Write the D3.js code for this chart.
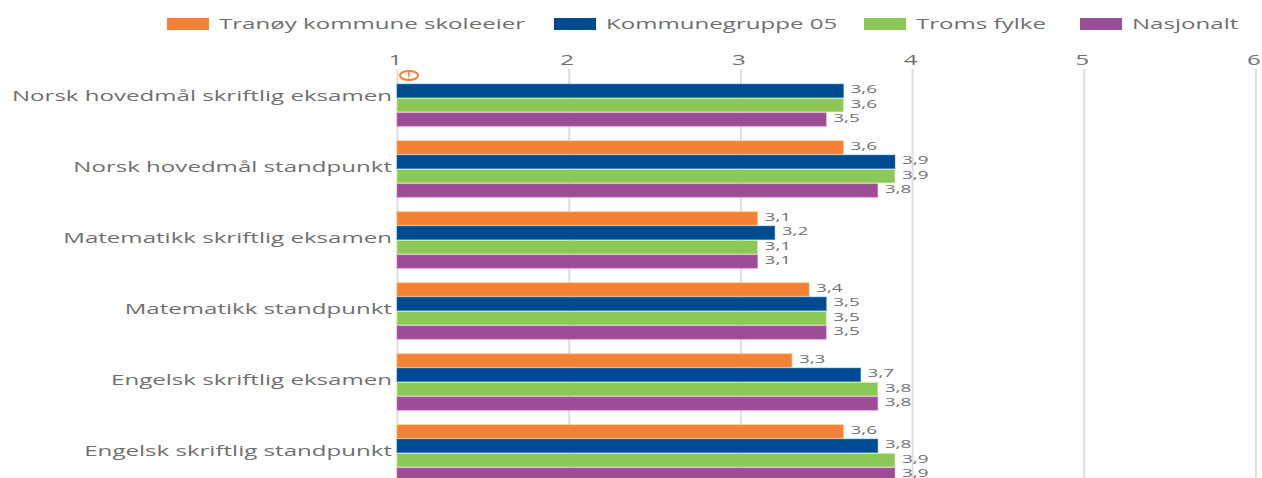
<!DOCTYPE html>
<html>
<head>
<meta charset="utf-8">
<script src="https://cdn.jsdelivr.net/npm/d3@7"></script>
<style>
html, body { margin: 0; padding: 0; background: #fff; overflow: hidden; }
svg { display: block; }
text { font-family: "Open Sans", sans-serif; fill: #707070; }
</style>
</head>
<body>
<div id="chart"></div>
<script>
var categories = [
	"Norsk hovedmål skriftlig eksamen",
	"Norsk hovedmål standpunkt",
	"Matematikk skriftlig eksamen",
	"Matematikk standpunkt",
	"Engelsk skriftlig eksamen",
	"Engelsk skriftlig standpunkt"
];
var seriesNames = ["Tranøy kommune skoleeier", "Kommunegruppe 05", "Troms fylke", "Nasjonalt"];
var seriesColors = ["#f58137", "#004a8f", "#8cc857", "#9b4d96"];
var tranoy = [null, 3.6, 3.1, 3.4, 3.3, 3.6];
var kommunegruppe = [3.6, 3.9, 3.2, 3.5, 3.7, 3.8];
var troms = [3.6, 3.9, 3.1, 3.5, 3.8, 3.9];
var nasjonalt = [3.5, 3.8, 3.1, 3.5, 3.8, 3.9];
var seriesValues = [tranoy, kommunegruppe, troms, nasjonalt];
var ticks = [1, 2, 3, 4, 5, 6];

var width = 1262, height = 478;
// the picture is stretched sideways, so the text is too
var stretch = 1.72;

var svg = d3.select("#chart").append("svg").attr("width", width).attr("height", height);

var x = d3.scaleLinear().domain([1, 6]).range([397, 1255.5]);
var y0 = d3.scaleBand().domain(categories).range([62.5, 488.5]).paddingInner(14.5 / 71).paddingOuter(7.25 / 71);
var y1 = d3.scaleBand().domain(seriesNames).range([0, y0.bandwidth()]).paddingInner(0.06);
var nb = d3.formatLocale({ decimal: ",", thousands: " ", grouping: [3], currency: ["", ""] }).format(".1f");

// gridlines
var grid = svg.append("g").attr("transform", "translate(0,69)")
	.call(d3.axisBottom(x).tickValues(ticks).tickSize(height - 69).tickFormat(""));
grid.select(".domain").remove();
grid.selectAll("line").attr("stroke", "#dedede").attr("stroke-width", 2);

// axis labels on top
var axisTop = svg.append("g").attr("transform", "translate(0,65)")
	.call(d3.axisTop(x).tickValues(ticks).tickSize(0).tickPadding(0).tickFormat(d3.format("d")));
axisTop.select(".domain").remove();
axisTop.selectAll("text")
	.attr("transform", "translate(-2,0) scale(" + stretch + ",1)")
	.style("font-size", "14px")
	.style("fill", "#707070");

// bars
seriesNames.forEach(function(name, s) {
	var present = categories.map(function(c, i) { return { cat: c, val: seriesValues[s][i] }; })
		.filter(function(d) { return d.val !== null; });

	var layer = svg.append("g");
	layer.selectAll("rect").data(present).enter().append("rect")
		.attr("x", x(1))
		.attr("y", function(d) { return y0(d.cat) + y1(name); })
		.attr("width", function(d) { return x(d.val) - x(1); })
		.attr("height", y1.bandwidth())
		.attr("fill", seriesColors[s])
		.attr("stroke", d3.color(seriesColors[s]).brighter(1.2))
		.attr("stroke-opacity", 0.5);

	layer.selectAll("text").data(present).enter().append("text")
		.attr("transform", function(d) {
			return "translate(" + (x(d.val) + 7) + "," + (y0(d.cat) + y1(name) + y1.bandwidth() / 2 + 2.5) + ") scale(" + stretch + ",1)";
		})
		.style("font-size", "11px")
		.text(function(d) { return nb(d.val); });
});

// category labels
svg.selectAll(".cat").data(categories).enter().append("text")
	.attr("class", "cat")
	.attr("text-anchor", "end")
	.attr("transform", function(d) {
		return "translate(392," + (y0(d) + y0.bandwidth() / 2 + 2.5) + ") scale(" + stretch + ",1)";
	})
	.style("font-size", "14px")
	.text(function(d) { return d; });

// warning mark where the first series has no value
var warn = svg.append("g").attr("transform", "translate(409,75.5)");
warn.append("ellipse").attr("rx", 9).attr("ry", 4.6)
	.attr("fill", "#fff").attr("stroke", seriesColors[0]).attr("stroke-width", 2);
warn.append("text").attr("text-anchor", "middle").attr("y", 4)
	.style("font-size", "10px").style("font-weight", "bold").style("fill", seriesColors[0]).text("!");

// legend
var legendX = d3.scaleOrdinal().domain(seriesNames).range([167, 554, 864, 1080]);
var legend = svg.selectAll(".legend").data(seriesNames).enter().append("g")
	.attr("class", "legend")
	.attr("transform", function(d) { return "translate(" + legendX(d) + ",18)"; });
legend.append("rect").attr("width", 42).attr("height", 12)
	.attr("fill", function(d, i) { return seriesColors[i]; });
legend.append("text")
	.attr("transform", "translate(52,11) scale(" + stretch + ",1)")
	.style("font-size", "14px")
	.text(function(d) { return d; });
</script>
</body>
</html>
